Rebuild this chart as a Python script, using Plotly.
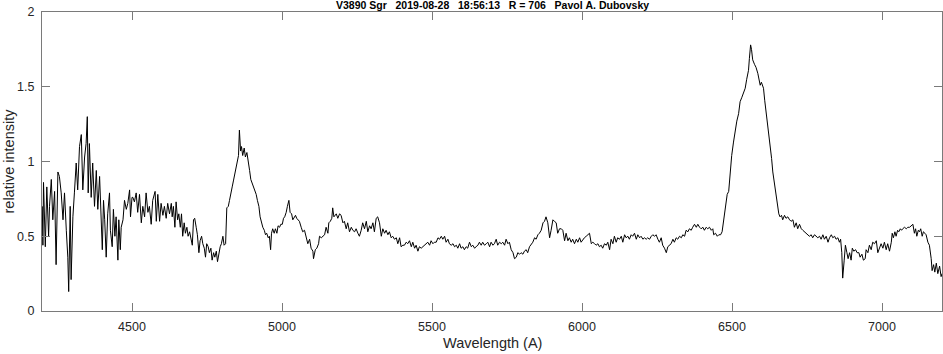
import numpy as np
import plotly.graph_objects as go

# --- spectrum data (wavelength in A, relative intensity) ---
wl_a = [4201, 4203, 4205, 4211, 4216, 4222, 4225, 4231, 4236, 4242, 4247, 4253, 4258, 4264, 4270, 4275,
        4281, 4286, 4289, 4294, 4297, 4303, 4308, 4314, 4319, 4325, 4331, 4336, 4342, 4347, 4351, 4354,
        4358, 4364, 4369, 4375, 4381, 4386, 4392, 4397, 4401, 4405, 4409, 4414, 4419, 4425, 4428, 4434,
        4438, 4443, 4447, 4453, 4456, 4461, 4464, 4470, 4475, 4481, 4486, 4492, 4495, 4500]
int_a = [0.70, 0.44, 0.86, 0.43, 0.83, 0.50, 0.70, 0.88, 0.61, 0.80, 0.31, 0.93, 0.90, 0.79, 0.61, 0.79,
         0.54, 0.36, 0.13, 0.70, 0.21, 0.63, 0.79, 0.99, 0.81, 1.10, 1.18, 0.81, 1.03, 1.12, 1.30, 0.79,
         1.12, 0.76, 0.99, 0.70, 0.94, 0.68, 0.90, 0.56, 0.41, 0.74, 0.61, 0.36, 0.65, 0.79, 0.54, 0.43,
         0.68, 0.50, 0.63, 0.34, 0.61, 0.41, 0.56, 0.61, 0.74, 0.68, 0.72, 0.81, 0.63, 0.76]

wl_b = [4503, 4508, 4514, 4519, 4525, 4531, 4536, 4542, 4547, 4553, 4558, 4564, 4569, 4577, 4581, 4586,
        4592, 4597, 4603, 4608, 4614, 4619]
int_b = [0.76, 0.73, 0.79, 0.66, 0.78, 0.59, 0.70, 0.63, 0.79, 0.66, 0.70, 0.58, 0.74, 0.80, 0.60, 0.78,
         0.60, 0.72, 0.64, 0.70, 0.62, 0.72]

wl_c = [4625, 4631, 4634, 4638, 4643, 4647, 4652, 4656, 4661, 4665, 4669, 4674, 4678, 4683, 4687, 4692,
        4696, 4701, 4705, 4709, 4714, 4718, 4723, 4727, 4732, 4736, 4741, 4745, 4749, 4754, 4758, 4763,
        4767, 4772, 4776, 4781, 4785, 4789, 4794, 4798, 4803, 4807, 4812, 4816, 4821, 4825, 4829, 4834,
        4838, 4843, 4847, 4852, 4855, 4858, 4862, 4865, 4869, 4874, 4878, 4883, 4887, 4892, 4896, 4901,
        4905, 4909, 4914, 4918, 4923, 4927, 4932, 4936, 4941, 4945, 4949, 4954, 4958, 4962, 4965, 4969,
        4974, 4978, 4983, 4987, 4992, 4996, 5001, 5005, 5009, 5014, 5018, 5023, 5027, 5032, 5036, 5041,
        5045, 5049, 5054]
int_c = [0.65, 0.72, 0.63, 0.70, 0.56, 0.73, 0.61, 0.65, 0.56, 0.65, 0.50, 0.59, 0.52, 0.56, 0.50, 0.53,
         0.48, 0.44, 0.61, 0.62, 0.56, 0.51, 0.39, 0.47, 0.50, 0.45, 0.42, 0.36, 0.45, 0.43, 0.39, 0.42,
         0.34, 0.39, 0.36, 0.40, 0.33, 0.39, 0.43, 0.45, 0.50, 0.44, 0.45, 0.69, 0.70, 0.74, 0.79, 0.83,
         0.87, 0.92, 0.98, 1.02, 1.04, 1.21, 1.07, 1.10, 1.04, 1.09, 1.03, 1.06, 0.99, 0.94, 0.88, 0.85,
         0.82, 0.80, 0.78, 0.74, 0.70, 0.63, 0.59, 0.56, 0.54, 0.51, 0.52, 0.49, 0.50, 0.41, 0.52, 0.55,
         0.52, 0.55, 0.52, 0.57, 0.56, 0.58, 0.58, 0.62, 0.63, 0.66, 0.70, 0.74, 0.66, 0.65, 0.61, 0.63,
         0.64, 0.62, 0.61]

wl_d = [5058, 5064, 5069, 5075, 5081, 5086, 5092, 5097, 5103, 5105, 5111, 5116, 5122, 5125, 5131, 5136,
        5142, 5147, 5153, 5156, 5161, 5166, 5169, 5173, 5177, 5181, 5186, 5192, 5197, 5203, 5208, 5214,
        5219, 5225, 5231, 5236, 5242, 5247, 5253, 5258, 5264, 5269, 5275, 5281, 5286, 5292, 5297, 5303,
        5308, 5314, 5319, 5325, 5331, 5336, 5342, 5347, 5353, 5358, 5364, 5369, 5375, 5381, 5386, 5392,
        5397, 5403, 5408, 5414, 5419, 5425, 5431, 5436, 5442, 5447, 5453, 5458, 5464, 5469, 5475, 5481,
        5486, 5492, 5497, 5503, 5508]
int_d = [0.60, 0.56, 0.53, 0.54, 0.48, 0.45, 0.48, 0.42, 0.40, 0.35, 0.41, 0.42, 0.45, 0.50, 0.49, 0.50,
         0.51, 0.56, 0.52, 0.59, 0.60, 0.62, 0.69, 0.63, 0.64, 0.65, 0.62, 0.65, 0.64, 0.59, 0.60, 0.55,
         0.59, 0.53, 0.56, 0.54, 0.53, 0.55, 0.52, 0.50, 0.54, 0.59, 0.55, 0.60, 0.53, 0.57, 0.55, 0.59,
         0.53, 0.62, 0.63, 0.59, 0.50, 0.55, 0.52, 0.54, 0.51, 0.53, 0.49, 0.50, 0.48, 0.49, 0.45, 0.49,
         0.43, 0.44, 0.44, 0.46, 0.45, 0.47, 0.43, 0.46, 0.42, 0.44, 0.40, 0.43, 0.42, 0.43, 0.44, 0.45,
         0.46, 0.44, 0.47, 0.45, 0.46]

wl_e = [5514, 5520, 5525, 5531, 5536, 5542, 5547, 5553, 5558, 5564, 5570, 5575, 5581, 5586, 5592, 5597,
        5603, 5608, 5614, 5619, 5625, 5631, 5636, 5642, 5647, 5653, 5658, 5664, 5669, 5675, 5681, 5686,
        5692, 5697, 5703, 5708, 5714, 5719, 5725, 5731, 5736, 5742, 5747, 5753, 5758, 5764, 5770, 5775,
        5781, 5786, 5792, 5797, 5803, 5808, 5814, 5819, 5825, 5831, 5836, 5842, 5847, 5853, 5858, 5864,
        5870, 5875, 5880, 5886, 5892, 5897, 5903, 5908, 5914, 5919, 5925, 5931, 5936, 5942]
int_e = [0.46, 0.49, 0.48, 0.50, 0.48, 0.50, 0.46, 0.48, 0.45, 0.44, 0.45, 0.43, 0.44, 0.42, 0.45, 0.42,
         0.43, 0.41, 0.43, 0.42, 0.46, 0.43, 0.44, 0.42, 0.43, 0.44, 0.46, 0.44, 0.46, 0.44, 0.45, 0.46,
         0.43, 0.46, 0.44, 0.45, 0.48, 0.44, 0.46, 0.45, 0.46, 0.44, 0.48, 0.45, 0.46, 0.41, 0.39, 0.35,
         0.36, 0.39, 0.38, 0.39, 0.38, 0.40, 0.41, 0.39, 0.43, 0.45, 0.46, 0.49, 0.48, 0.51, 0.52, 0.54,
         0.59, 0.60, 0.63, 0.59, 0.49, 0.54, 0.61, 0.60, 0.59, 0.52, 0.55, 0.55, 0.54, 0.47]

wl_f = [5947, 5953, 5958, 5964, 5969, 5975, 5981, 5986, 5992, 5997, 6003, 6008, 6014, 6019, 6025, 6031,
        6036, 6042, 6047, 6053, 6058, 6064, 6069, 6075, 6081, 6086, 6092, 6097, 6103, 6108, 6114, 6119,
        6125, 6131, 6136, 6142, 6147, 6153, 6158, 6164, 6169, 6175, 6181, 6186, 6192, 6197, 6203, 6208,
        6214, 6219, 6225, 6231, 6236, 6242, 6247, 6253, 6258, 6264, 6269, 6275, 6281, 6286, 6292, 6297,
        6303, 6308, 6314, 6319, 6325, 6331, 6336, 6342, 6347, 6353, 6358, 6364, 6369, 6375]
int_f = [0.52, 0.47, 0.49, 0.46, 0.48, 0.45, 0.48, 0.46, 0.49, 0.46, 0.48, 0.49, 0.50, 0.51, 0.52, 0.45,
         0.46, 0.45, 0.44, 0.45, 0.43, 0.44, 0.42, 0.45, 0.44, 0.46, 0.41, 0.48, 0.45, 0.50, 0.46, 0.49,
         0.48, 0.50, 0.46, 0.51, 0.49, 0.50, 0.48, 0.51, 0.50, 0.52, 0.48, 0.51, 0.49, 0.50, 0.48, 0.49,
         0.48, 0.49, 0.48, 0.50, 0.51, 0.50, 0.51, 0.48, 0.46, 0.49, 0.44, 0.42, 0.39, 0.43, 0.44, 0.45,
         0.48, 0.46, 0.49, 0.48, 0.50, 0.49, 0.51, 0.50, 0.54, 0.53, 0.55, 0.54, 0.56, 0.58]

wl_g = [6381, 6386, 6392, 6397, 6403, 6408, 6414, 6419, 6425, 6431, 6436, 6439, 6445, 6451, 6456, 6462,
        6467, 6473, 6478, 6484, 6489, 6494, 6499, 6505, 6511, 6516, 6522, 6527, 6533, 6538, 6544, 6549,
        6555, 6558, 6562, 6565, 6569, 6575, 6580, 6586, 6589, 6594, 6598, 6605, 6609, 6614, 6619, 6623,
        6627, 6632, 6636, 6642, 6647, 6652, 6656, 6660, 6665, 6669, 6675, 6680, 6686, 6692, 6697, 6703,
        6708, 6714, 6719, 6725, 6731, 6736, 6742, 6747, 6753, 6758, 6764, 6769, 6775, 6780, 6786, 6792,
        6797, 6803]
int_g = [0.56, 0.58, 0.56, 0.55, 0.56, 0.54, 0.56, 0.55, 0.56, 0.54, 0.55, 0.51, 0.52, 0.50, 0.51, 0.51,
         0.53, 0.63, 0.71, 0.78, 0.80, 0.93, 1.04, 1.13, 1.21, 1.27, 1.32, 1.40, 1.43, 1.46, 1.49, 1.55,
         1.61, 1.69, 1.78, 1.75, 1.68, 1.65, 1.63, 1.59, 1.56, 1.51, 1.53, 1.49, 1.41, 1.33, 1.24, 1.18,
         1.10, 1.02, 0.93, 0.84, 0.75, 0.68, 0.65, 0.63, 0.64, 0.61, 0.64, 0.62, 0.63, 0.61, 0.60, 0.61,
         0.56, 0.59, 0.55, 0.58, 0.55, 0.54, 0.53, 0.52, 0.51, 0.50, 0.51, 0.49, 0.51, 0.50, 0.49, 0.50,
         0.48, 0.51]

wl_h = [6808, 6814, 6820, 6825, 6831, 6836, 6842, 6847, 6853, 6858, 6862, 6866, 6869, 6874, 6878, 6883,
        6887, 6892, 6897, 6901, 6906, 6912, 6917, 6923, 6927, 6933, 6938, 6944, 6947, 6953, 6958, 6964,
        6969, 6975, 6981, 6986, 6992, 6997, 7003, 7008, 7014, 7019, 7025, 7031, 7034, 7038, 7043, 7047,
        7052, 7056, 7061, 7065, 7069, 7075, 7081, 7086, 7092, 7097, 7103, 7108, 7112, 7116, 7121, 7125,
        7129, 7134, 7138, 7143, 7147, 7153, 7158, 7164, 7167, 7172, 7176, 7181, 7186, 7192, 7197, 7200]
int_h = [0.48, 0.50, 0.46, 0.49, 0.51, 0.49, 0.50, 0.48, 0.49, 0.46, 0.48, 0.39, 0.22, 0.34, 0.44, 0.39,
         0.35, 0.39, 0.34, 0.42, 0.40, 0.41, 0.39, 0.39, 0.36, 0.38, 0.34, 0.35, 0.41, 0.39, 0.44, 0.41,
         0.46, 0.45, 0.47, 0.39, 0.43, 0.45, 0.42, 0.46, 0.41, 0.45, 0.40, 0.46, 0.52, 0.49, 0.53, 0.50,
         0.54, 0.53, 0.55, 0.54, 0.55, 0.56, 0.55, 0.56, 0.56, 0.57, 0.58, 0.52, 0.55, 0.50, 0.54, 0.53,
         0.55, 0.50, 0.53, 0.52, 0.51, 0.46, 0.44, 0.35, 0.27, 0.31, 0.26, 0.32, 0.25, 0.30, 0.23, 0.25]

x_ticks = [4500, 5000, 5500, 6000, 6500, 7000]
y_ticks = [0, 0.5, 1, 1.5, 2]
y_tick_labels = ["0", "0.5", "1", "1.5", "2"]

title_text = "V3890 Sgr   2019-08-28   18:56:13   R = 706   Pavol A. Dubovsky"
x_label = "Wavelength (A)"
y_label = "relative intensity"

segments = [(wl_a, int_a), (wl_b, int_b), (wl_c, int_c), (wl_d, int_d),
            (wl_e, int_e), (wl_f, int_f), (wl_g, int_g), (wl_h, int_h)]
wavelength = []
intensity = []
for w, v in segments:
    assert len(w) == len(v)
    wavelength += w
    intensity += v

FONT = "Liberation Sans, Arial, sans-serif"
TXT = "#262626"
AXL = "#7a7a7a"

fig = go.Figure()
fig.add_trace(go.Scatter(x=wavelength, y=intensity, mode="lines",
                         line=dict(color="black", width=1), hoverinfo="skip", showlegend=False))

W, H = 943, 354
L, R, T, B = 42, 1, 12, 43

fig.update_layout(
    width=W, height=H,
    margin=dict(l=L, r=R, t=T, b=B, pad=0),
    paper_bgcolor="white", plot_bgcolor="white",
    font=dict(family=FONT, color=TXT),
    showlegend=False,
)
fig.update_xaxes(
    range=[4200, 7200], tickvals=x_ticks, ticks="inside", ticklen=8, tickwidth=1, tickcolor=AXL,
    showline=True, linecolor=AXL, linewidth=1, mirror="ticks", showgrid=False, zeroline=False,
    tickfont=dict(size=12.5, color=TXT, family=FONT), ticklabelstandoff=4,
)
fig.update_yaxes(
    range=[0, 2], tickvals=y_ticks, ticktext=y_tick_labels, ticks="inside", ticklen=8, tickwidth=1,
    tickcolor=AXL, showline=True, linecolor=AXL, linewidth=1, mirror="ticks", showgrid=False,
    zeroline=False, tickfont=dict(size=12.5, color=TXT, family=FONT), ticklabelstandoff=4,
)

fig.add_annotation(text=title_text.replace(" ", "\u00a0"), xref="paper", yref="paper",
                   x=0.5, y=1, yshift=7, xanchor="center", yanchor="middle", showarrow=False,
                   font=dict(family=FONT, size=10.5, color="black", weight="bold"))
fig.add_annotation(text=x_label, xref="paper", yref="paper", x=0.5, y=0,
                   xanchor="center", yanchor="middle", yshift=-(343 - (H - B)), showarrow=False,
                   font=dict(family=FONT, size=14.5, color=TXT))
fig.add_annotation(text=y_label, xref="paper", yref="paper", x=0, y=0.5, xanchor="center",
                   yanchor="middle", xshift=-(L - 8), textangle=-90, showarrow=False,
                   font=dict(family=FONT, size=14.5, color=TXT))

fig.write_html("out.html", config={"displayModeBar": False},
               post_script="document.body.style.margin='0px';document.body.style.overflow='hidden';")
